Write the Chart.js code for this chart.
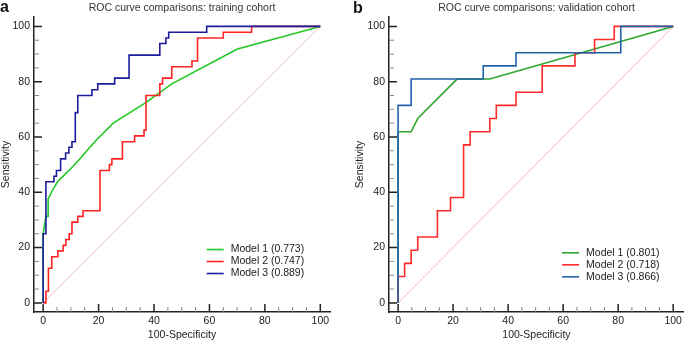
<!doctype html>
<html lang="en">
<head>
<meta charset="utf-8">
<title>ROC curve comparisons</title>
<script src="https://cdn.jsdelivr.net/npm/chart.js/dist/chart.umd.min.js"></script>
<style>
  * { margin: 0; padding: 0; }
  body { width: 685px; height: 342px; background: #fff; position: relative; overflow: hidden; }
  .panel { position: absolute; top: 0; }
  #panelA { left: 0; }
  #panelB { left: 342px; }
</style>
</head>
<body>
<div class="panel" id="panelA"><canvas id="chartA" width="342" height="342"></canvas></div>
<div class="panel" id="panelB"><canvas id="chartB" width="343" height="342"></canvas></div>

<script>
// axis ticks (minor every 5, labelled every 20)
const tickValues = [0, 5, 10, 15, 20, 25, 30, 35, 40, 45, 50, 55, 60, 65, 70, 75, 80, 85, 90, 95, 100];
const labelTicks = [0, 20, 40, 60, 80, 100];

// training cohort
const trainNames = ['Model 1 (0.773)', 'Model 2 (0.747)', 'Model 3 (0.889)'];
const trainM1Fpr = [0, 0, 1, 1.8, 1.8, 3.5, 5.3, 7.7, 10.1, 12.5, 15.9, 19.3, 25.3, 37.3, 46.4, 70.1, 100];
const trainM1Tpr = [0, 25, 31.3, 31.3, 37.5, 41, 44, 46.3, 48.7, 51.2, 55.2, 59, 65, 72.6, 79.2, 91.8, 100];
// staircases: at each stepX the curve rises to stepY, then runs right to the next step
const trainM2StepX = [1, 1.9, 3.1, 5.3, 7.2, 8.2, 9.4, 10.4, 12.5, 14.4, 20.5, 23.9, 24.8, 28.6, 33, 36.4, 37.1, 42.1, 43.1, 46.4, 53.7, 55.7, 65, 75.2];
const trainM2StepY = [4.2, 12.5, 16.7, 18.8, 20.8, 22.9, 25, 29.2, 31.3, 33.3, 47.9, 50, 52.1, 58.3, 60.4, 62.5, 75, 79.2, 81.3, 85.4, 87.5, 95.8, 97.9, 100];
const trainM3StepX = [0, 1, 3.9, 4.8, 6.3, 8.1, 9.3, 10.4, 11.6, 12.5, 17.6, 19.7, 25.8, 31, 42.1, 44.3, 45.3, 59];
const trainM3StepY = [25, 43.8, 45.8, 47.9, 52.1, 54.2, 56.3, 58.3, 68.8, 75, 77.1, 79.2, 81.3, 89.6, 93.8, 95.8, 97.9, 100];

// validation cohort
const validNames = ['Model 1 (0.801)', 'Model 2 (0.718)', 'Model 3 (0.866)'];
const validM1Fpr = [0, 0, 4.76, 7.14, 21.43, 33.33, 100];
const validM1Tpr = [0, 61.9, 61.9, 66.67, 80.95, 80.95, 100];
const validM2StepX = [0, 2.38, 4.76, 7.14, 14.29, 19.05, 23.81, 26.19, 33.33, 35.71, 42.86, 52.38, 64.29, 71.43, 78.57];
const validM2StepY = [9.52, 14.29, 19.05, 23.81, 33.33, 38.1, 57.14, 61.9, 66.67, 71.43, 76.19, 85.71, 90.48, 95.24, 100];
const validM3StepX = [0, 4.76, 30.95, 42.86, 80.95];
const validM3StepY = [71.43, 80.95, 85.71, 90.48, 100];

const FONT = '"Liberation Sans", Arial, sans-serif';

function polyline(xs, ys) {
  return xs.map((x, i) => ({ x: x, y: ys[i] }));
}

function staircase(xs, ys) {
  const pts = [{ x: 0, y: 0 }];
  let prevY = 0;
  xs.forEach((x, i) => {
    pts.push({ x: x, y: prevY });
    pts.push({ x: x, y: ys[i] });
    prevY = ys[i];
  });
  pts.push({ x: 100, y: prevY });
  return pts;
}

// inward tick marks, like the original software draws them
const innerTicks = {
  id: 'innerTicks',
  afterDraw(chart) {
    const { ctx, chartArea: a, scales: { x, y } } = chart;
    ctx.save();
    tickValues.forEach(v => {
      const major = labelTicks.includes(v);
      const len = major ? 8 : 5;
      ctx.strokeStyle = major ? '#222' : '#888';
      ctx.lineWidth = major ? 1.5 : 1;
      const px = x.getPixelForValue(v), py = y.getPixelForValue(v);
      ctx.beginPath();
      ctx.moveTo(px, a.bottom); ctx.lineTo(px, a.bottom - len);
      ctx.moveTo(a.left, py); ctx.lineTo(a.left + len, py);
      ctx.stroke();
    });
    ctx.restore();
  }
};

const rocLegend = {
  id: 'rocLegend',
  afterDraw(chart, args, opts) {
    const { ctx, scales: { x, y } } = chart;
    const lx = x.getPixelForValue(opts.x);
    let ly = y.getPixelForValue(opts.y);
    ctx.save();
    ctx.font = '10.5px ' + FONT;
    ctx.textBaseline = 'middle';
    chart.data.datasets.forEach(ds => {
      if (!ds.label) return;
      ctx.strokeStyle = ds.borderColor;
      ctx.lineWidth = 1.6;
      ctx.beginPath();
      ctx.moveTo(lx, ly); ctx.lineTo(lx + 17, ly);
      ctx.stroke();
      ctx.fillStyle = '#222';
      ctx.fillText(ds.label, lx + 24, ly);
      ly += 12;
    });
    ctx.restore();
  }
};

const panelTag = {
  id: 'panelTag',
  afterDraw(chart, args, opts) {
    const ctx = chart.ctx;
    ctx.save();
    ctx.font = 'bold 16px ' + FONT;
    ctx.fillStyle = '#111';
    ctx.textBaseline = 'alphabetic';
    ctx.fillText(opts.text, opts.x, opts.y);
    ctx.restore();
  }
};

function axis(label, isX, fitSize, max, titlePad) {
  return {
    type: 'linear',
    min: -3.3,
    max: max,
    afterBuildTicks: s => { s.ticks = tickValues.map(v => ({ value: v })); },
    afterFit: s => { if (isX) s.height = fitSize; else s.width = fitSize; },
    ticks: {
      autoSkip: false, maxRotation: 0, padding: isX ? 3 : 4, color: '#222',
      font: { family: FONT, size: 10.5 },
      callback: v => labelTicks.includes(v) ? v : ''
    },
    grid: { drawOnChartArea: false, drawTicks: false },
    border: { color: '#222', width: 1.5 },
    title: { display: true, text: label, color: '#222', font: { family: FONT, size: 10.5 }, padding: titlePad }
  };
}

function makeChart(id, cfg) {
  const line = (label, data, color, order) => ({
    label: label, data: data, borderColor: color, backgroundColor: color,
    borderWidth: 1.6, pointRadius: 0, showLine: true, fill: false, tension: 0, order: order
  });
  return new Chart(document.getElementById(id), {
    type: 'scatter',
    data: {
      datasets: [
        line(cfg.names[0], cfg.m1, cfg.colors[0], 2),
        line(cfg.names[1], cfg.m2, cfg.colors[1], 1),
        line(cfg.names[2], cfg.m3, cfg.colors[2], 0),
        { label: '', data: [{ x: 0, y: 0 }, { x: 100, y: 100 }], borderColor: '#f3b9b9',
          borderWidth: 1, pointRadius: 0, showLine: true, order: 3 }
      ]
    },
    options: {
      responsive: false,
      animation: false,
      devicePixelRatio: 1,
      layout: { padding: { left: 0, right: cfg.padRight, top: 0, bottom: 0 } },
      scales: {
        x: axis('100-Specificity', true, 30, cfg.xMax, { top: 0, bottom: 1 }),
        y: axis('Sensitivity', false, cfg.yWidth, 103.4, { top: cfg.yTitlePad, bottom: 0 })
      },
      plugins: {
        legend: { display: false },
        tooltip: { enabled: false },
        title: {
          display: true, text: cfg.title, fullSize: false, color: '#333',
          font: { family: FONT, size: 10.5, weight: 'normal' }, padding: { top: 2, bottom: 2.4 }
        },
        rocLegend: cfg.legendAt,
        panelTag: cfg.tag
      }
    },
    plugins: [innerTicks, rocLegend, panelTag]
  });
}

makeChart('chartA', {
  title: 'ROC curve comparisons: training cohort',
  names: trainNames,
  m1: polyline(trainM1Fpr, trainM1Tpr),
  m2: staircase(trainM2StepX, trainM2StepY),
  m3: staircase(trainM3StepX, trainM3StepY),
  colors: ['#22c822', '#ff2424', '#1c1c9c'],
  padRight: 12, xMax: 103.5, yWidth: 34, yTitlePad: 0,
  legendAt: { x: 59, y: 19.3 },
  tag: { text: 'a', x: 0, y: 12 }
});

makeChart('chartB', {
  title: 'ROC curve comparisons: validation cohort',
  names: validNames,
  m1: polyline(validM1Fpr, validM1Tpr),
  m2: staircase(validM2StepX, validM2StepY),
  m3: staircase(validM3StepX, validM3StepY),
  colors: ['#2ea62e', '#ff2a2a', '#2262aa'],
  padRight: 0, xMax: 103.9, yWidth: 47, yTitlePad: 11.7,
  legendAt: { x: 59.6, y: 18.1 },
  tag: { text: 'b', x: 11, y: 13 }
});
</script>
</body>
</html>
